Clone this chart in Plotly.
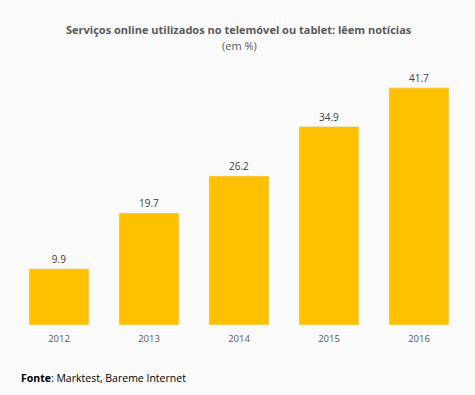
import plotly.graph_objects as go

years = ["2012", "2013", "2014", "2015", "2016"]
values = [9.9, 19.7, 26.2, 34.9, 41.7]
labels = ["9.9", "19.7", "26.2", "34.9", "41.7"]

fig = go.Figure(go.Bar(
    x=years, y=values, text=labels, textposition="outside",
    marker_color="#FFC000", width=0.667,
    textfont=dict(family="Open Sans", size=10, color="#404040"),
    cliponaxis=False,
))

fig.update_layout(
    width=475, height=395,
    paper_bgcolor="#FAFAFA", plot_bgcolor="#FAFAFA",
    margin=dict(l=14, r=11, t=60, b=70),
    showlegend=False,
    font=dict(family="Open Sans", color="#595959"),
    xaxis=dict(showgrid=False, showline=False, ticks="", ticklabelstandoff=6,
               tickfont=dict(size=9.5, color="#595959")),
    yaxis=dict(range=[0, 46.6], visible=False),
)
H = 395 - 60 - 70
def py(ypix):
    return (325 - ypix) / H
fig.add_annotation(text="<b>Serviços online utilizados no telemóvel ou tablet: lêem notícias</b>",
                   x=(239 - 14) / 450, xref="paper", y=py(29), yref="paper", showarrow=False,
                   xanchor="center", yanchor="middle", font=dict(size=11, color="#595959"))
fig.add_annotation(text="(em %)", x=(239 - 14) / 450, xref="paper", y=py(45), yref="paper", showarrow=False,
                   xanchor="center", yanchor="middle", font=dict(size=11, color="#595959"))
fig.add_annotation(text="<b>Fonte</b>: Marktest, Bareme Internet", x=(19 - 14) / 450, xref="paper",
                   y=py(378), yref="paper", showarrow=False, xanchor="left", yanchor="middle",
                   font=dict(size=10.5, color="#000000"))

fig.write_html("out.html", config={"displayModeBar": False},
               post_script="document.body.style.margin='0';")
